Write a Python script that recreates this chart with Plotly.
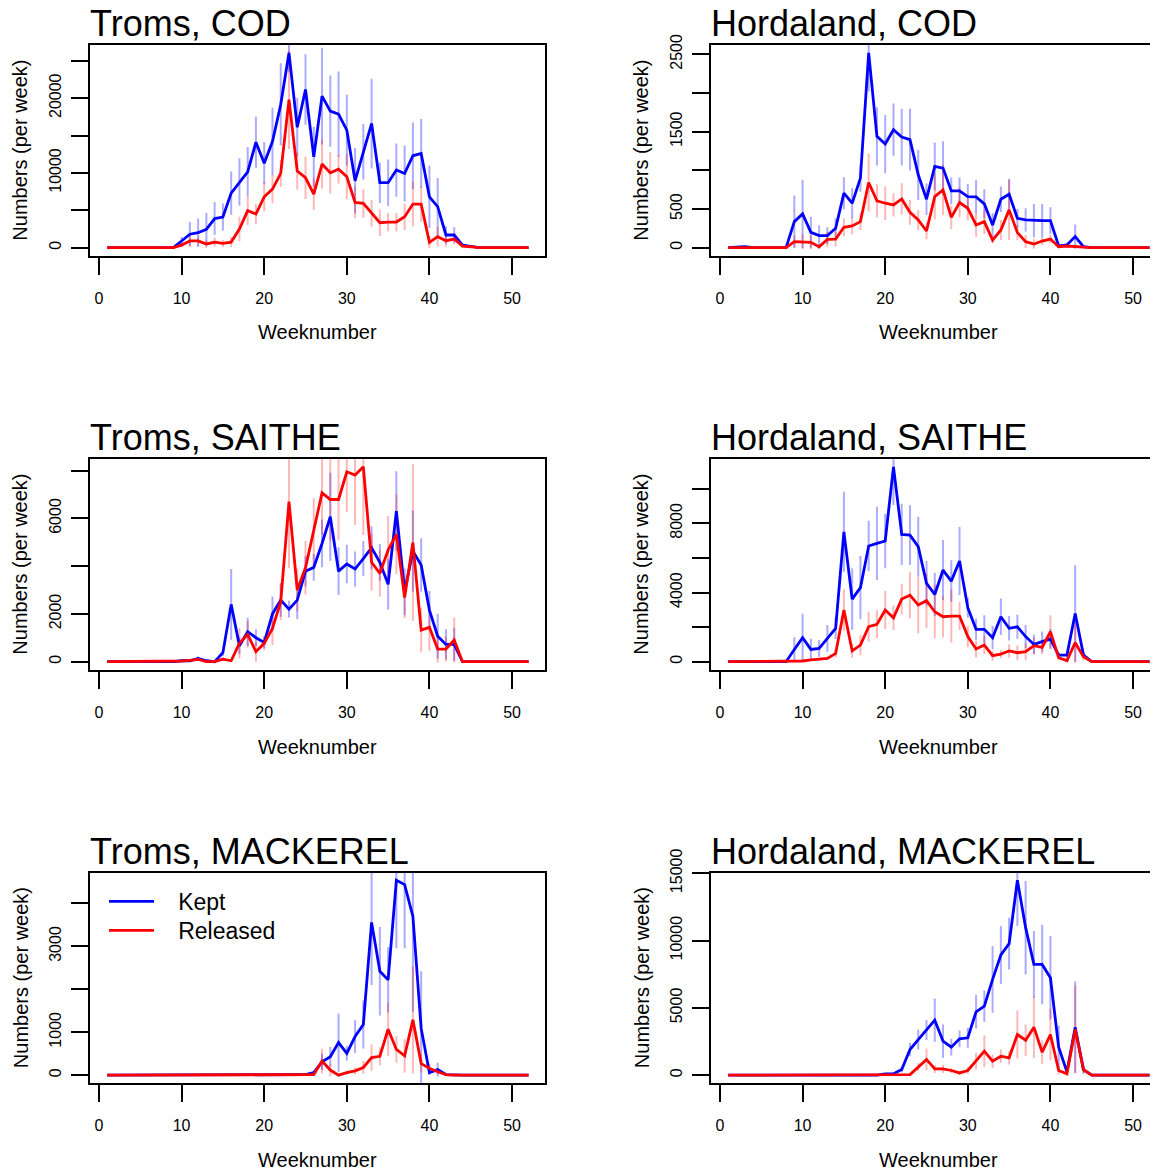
import plotly.graph_objects as go

# ---------------- data ----------------
weeks = list(range(1, 53))

panel_titles = ["Troms, COD", "Hordaland, COD", "Troms, SAITHE",
                "Hordaland, SAITHE", "Troms, MACKEREL", "Hordaland, MACKEREL"]
legend_names = ["Kept", "Released"]

# Troms, COD
troms_cod_kept = [0]*9 + [900, 1800, 2000, 2450, 3900, 4100, 7300, 8800, 10150, 14100, 11300, 14200,
                          19150, 26060, 16100, 21150, 12150, 20270, 18260, 17860, 15720, 8950, 12830,
                          16600, 8690, 8690, 10380, 9930, 12290, 12600, 6800, 5480, 1700, 1700, 350, 200] + [0]*7
troms_cod_rel = [0]*9 + [350, 900, 900, 500, 750, 580, 750, 2500, 4950, 4500, 6800, 7840, 9930, 19800,
                         10240, 9350, 7170, 11180, 10020, 10500, 9490, 6060, 5920, 4590, 3340, 3430, 3430,
                         4140, 5830, 5830, 710, 1470, 940, 1160, 220, 130] + [0]*7
troms_cod_kept_err = [0]*9 + [540, 1650, 1900, 2200, 2200, 1800, 2900, 3150, 3300, 3400, 2830, 4500, 5500,
                              2550, 3900, 4700, 4000, 6460, 4770, 5700, 4720, 4370, 3720, 6000, 2700, 3100,
                              3560, 3740, 4450, 4600, 4150, 3850, 1160, 1020, 270, 100] + [0]*7
troms_cod_rel_err = [0]*9 + [300, 700, 600, 500, 600, 500, 700, 1650, 1900, 1340, 1940, 1900, 1800, 6600,
                             2450, 2850, 2120, 3300, 2780, 1900, 3000, 2120, 1900, 1780, 1780, 1220, 1220,
                             1780, 3000, 2340, 780, 1300, 780, 700, 200, 100] + [0]*7

# Hordaland, COD
hord_cod_kept = [0, 10, 15, 0, 0, 0, 0, 0] + [337, 437, 199, 156, 156, 251, 705, 575, 900, 2520, 1440, 1340,
                                              1526, 1431, 1397, 943, 627, 1050, 1029, 735, 735, 661, 657, 566,
                                              294, 627, 692, 380, 359, 350, 350, 350, 22, 35, 143, 13] + [0]*8
hord_cod_rel = [0]*8 + [78, 78, 69, 13, 108, 112, 264, 281, 337, 843, 605, 575, 553, 631, 458, 359, 216, 661,
                        748, 393, 584, 510, 294, 337, 99, 229, 489, 195, 78, 48, 86, 112, 13, 22, 13, 0] + [0]*8
hord_cod_kept_err = [0, 10, 10, 0, 0, 0, 0, 0] + [337, 440, 200, 130, 108, 130, 207, 195, 175, 500, 376, 376,
                                                  337, 367, 400, 325, 203, 311, 346, 173, 173, 164, 216, 190,
                                                  151, 164, 199, 121, 151, 216, 216, 173, 20, 30, 156, 10] + [0]*8
hord_cod_rel_err = [0]*8 + [78, 95, 86, 30, 95, 95, 117, 108, 108, 376, 216, 216, 151, 203, 160, 130, 108, 300,
                            324, 151, 195, 151, 151, 160, 43, 130, 389, 100, 86, 60, 52, 52, 10, 15, 10, 0] + [0]*8

# Troms, SAITHE
troms_sai_kept = [0]*9 + [40, 40, 140, 40, 0, 376, 2400, 670, 1255, 1004, 810, 2000, 2580, 2200, 2580, 3790,
                          3950, 4950, 6070, 3790, 4090, 3880, 4320, 4770, 4160, 3240, 6300, 2930, 4630, 4050,
                          2160, 1070, 725, 725, 0] + [0]*8
troms_sai_rel = [0]*9 + [30, 55, 100, 0, 0, 110, 40, 770, 1140, 420, 770, 1395, 2510, 6700, 3000, 3930, 5440,
                         7070, 6790, 6790, 7950, 7810, 8160, 4160, 3700, 4670, 5330, 2690, 4990, 1325, 1440,
                         530, 530, 910, 0] + [0]*8
troms_sai_kept_err = [0]*9 + [40, 40, 80, 40, 0, 140, 1480, 350, 590, 350, 250, 730, 700, 350, 800, 640, 560,
                              1000, 1840, 1000, 810, 730, 730, 900, 770, 1050, 1670, 980, 1700, 1120, 800, 940,
                              630, 700, 0] + [0]*8
troms_sai_rel_err = [0]*9 + [30, 40, 60, 0, 0, 80, 40, 630, 560, 420, 300, 700, 770, 2790, 900, 1120, 1400,
                             1770, 1700, 1700, 1670, 2090, 2860, 1190, 980, 1430, 1670, 870, 3280, 940, 980,
                             560, 520, 940, 0] + [0]*8

# Hordaland, SAITHE
hord_sai_kept = [0]*8 + [710, 1390, 710, 770, 1350, 1930, 7510, 3620, 4280, 6690, 6840, 6980, 11270, 7360,
                         7320, 6650, 4530, 3890, 5300, 4660, 5820, 3120, 1870, 1870, 1390, 2600, 1930, 2020,
                         1450, 1000, 1160, 1310, 385, 385, 2790, 385, 0] + [0]*7
hord_sai_rel = [0]*8 + [0, 40, 100, 135, 190, 480, 2990, 620, 960, 2020, 2160, 2990, 2540, 3620, 3850, 3280,
                        3530, 2890, 2600, 2640, 2640, 1450, 730, 960, 350, 440, 620, 520, 580, 925, 830, 1730,
                        230, 60, 1100, 290, 0] + [0]*7
hord_sai_kept_err = [0]*8 + [710, 1390, 620, 480, 770, 620, 2310, 1770, 1830, 1460, 2120, 1580, 2210, 1770,
                             1730, 1730, 1300, 1250, 1730, 1200, 1970, 580, 620, 810, 670, 1060, 710, 690, 670,
                             580, 580, 580, 150, 150, 2790, 150, 0] + [0]*7
hord_sai_rel_err = [0]*8 + [0, 30, 60, 80, 100, 230, 1200, 385, 580, 870, 810, 1100, 710, 890, 1350, 1640,
                            1580, 1540, 1200, 1540, 810, 620, 480, 520, 290, 230, 385, 420, 480, 480, 385, 960,
                            150, 50, 1160, 200, 0] + [0]*7

# Troms, MACKEREL
troms_mac_kept = [0]*16 + [5] + [0]*6 + [15, 15, 60, 310, 430, 760, 510, 900, 1180, 3560, 2420, 2220, 4540,
                                         4440, 3700, 1090, 60, 130, 15] + [0]*10
troms_mac_rel = [0]*25 + [15, 330, 120, 0, 60, 100, 180, 410, 440, 1070, 600, 450, 1290, 270, 160, 80,
                          15] + [0]*10
troms_mac_kept_err = [0]*23 + [10, 10, 40, 190, 230, 680, 170, 380, 560, 1460, 1030, 760, 1580, 1480, 2220,
                               1330, 50, 160, 10] + [0]*10
troms_mac_rel_err = [0]*25 + [10, 290, 150, 0, 40, 80, 150, 310, 210, 620, 310, 390, 1250, 210, 100, 50,
                              10] + [0]*10

# Hordaland, MACKEREL
hord_mac_kept = [0]*14 + [30, 30] + [0]*3 + [100, 100, 420, 1910, 2650, 3350, 4090, 2530, 2080, 2700, 2780,
                                             4710, 5130, 7120, 8930, 9770, 14480, 10960, 8230, 8230, 7240,
                                             2080, 250, 3570, 420, 0] + [0]*7
hord_mac_rel = [0]*19 + [50, 50, 50, 50, 600, 1170, 470, 470, 350, 170, 350, 1040, 1790, 1040, 1410, 1290,
                         3020, 2600, 3570, 1710, 3020, 350, 100, 3400, 420, 0] + [0]*7
hord_mac_kept_err = [0]*19 + [50, 50, 200, 500, 740, 740, 1610, 1240, 620, 620, 740, 1240, 1170, 2480, 2150,
                              1920, 3400, 3470, 2480, 2950, 3100, 1610, 200, 3400, 300, 0] + [0]*7
hord_mac_rel_err = [0]*19 + [30, 30, 30, 30, 300, 800, 300, 300, 200, 150, 250, 620, 1170, 500, 500, 500,
                             1790, 1170, 2290, 870, 1910, 300, 100, 3270, 300, 0] + [0]*7

x_tick_vals = [0, 10, 20, 30, 40, 50]
y_tick_vals = [
    [0, 5000, 10000, 15000, 20000, 25000],
    [0, 500, 1000, 1500, 2000, 2500],
    [0, 2000, 4000, 6000, 8000],
    [0, 2000, 4000, 6000, 8000, 10000],
    [0, 1000, 2000, 3000, 4000],
    [0, 5000, 10000, 15000],
]
y_tick_text = [
    ["0", "", "10000", "", "20000", ""],
    ["0", "500", "", "1500", "", "2500"],
    ["0", "2000", "", "6000", ""],
    ["0", "", "4000", "", "8000", ""],
    ["0", "1000", "", "3000", ""],
    ["0", "5000", "10000", "15000"],
]

series = [
    (troms_cod_kept, troms_cod_rel, troms_cod_kept_err, troms_cod_rel_err),
    (hord_cod_kept, hord_cod_rel, hord_cod_kept_err, hord_cod_rel_err),
    (troms_sai_kept, troms_sai_rel, troms_sai_kept_err, troms_sai_rel_err),
    (hord_sai_kept, hord_sai_rel, hord_sai_kept_err, hord_sai_rel_err),
    (troms_mac_kept, troms_mac_rel, troms_mac_kept_err, troms_mac_rel_err),
    (hord_mac_kept, hord_mac_rel, hord_mac_kept_err, hord_mac_rel_err),
]

# ---------------- layout constants ----------------
OFF = 8                      # browser body margin
col_left_px = [90.4, 711.4]
plot_width_px = 455.0
row_top_px = [45.0, 459.0, 872.5]
row_height_px = 210.5

# the right-hand panels run past the right edge of the page, as in the reference
W = int(round(col_left_px[1] + plot_width_px - OFF)) + 1
H = 1171 - OFF
FONT = "Arial, Liberation Sans, sans-serif"
BLUE, RED = "#0000FF", "#FF0000"
BLUE_ERR, RED_ERR = "rgba(0,0,255,0.33)", "rgba(255,0,0,0.28)"


def fx(px):
    return (px - OFF) / W


def fy(py):
    return 1 - (py - OFF) / H


x_lo = weeks[0] - 0.04 * (weeks[-1] - weeks[0])
x_hi = weeks[-1] + 0.04 * (weeks[-1] - weeks[0])


def err_segments(vals, errs):
    xs, ys = [], []
    for w, v, e in zip(weeks, vals, errs):
        if e > 0:
            xs += [w, w, None]
            ys += [v - e, v + e, None]
    return xs, ys


legend_style = dict(xanchor="left", yanchor="top", bgcolor="rgba(0,0,0,0)", borderwidth=0,
                    font=dict(size=23, family=FONT, color="black"), itemwidth=45, tracegroupgap=0)

fig = go.Figure()
layout = dict(
    width=W, height=H, autosize=False,
    margin=dict(l=0, r=0, t=0, b=0, pad=0, autoexpand=False),
    paper_bgcolor="white", plot_bgcolor="white",
    font=dict(family=FONT, color="black"),
    showlegend=True,
    legend=dict(x=fx(104), y=fy(880), **legend_style),
    legend2=dict(x=fx(104), y=fy(909), **legend_style),
)
annotations = []

for i, (kept, rel, kerr, rerr) in enumerate(series):
    n = i + 1
    col = i % 2
    row = i // 2
    xa = "x" if n == 1 else f"x{n}"
    ya = "y" if n == 1 else f"y{n}"

    left = col_left_px[col]
    right = left + plot_width_px
    top = row_top_px[row]
    bottom = top + row_height_px

    ymax = max(max(kept), max(rel))
    yr = [-0.04 * ymax, 1.04 * ymax]

    bx, by = err_segments(kept, kerr)
    fig.add_trace(go.Scatter(x=bx, y=by, mode="lines", xaxis=xa, yaxis=ya,
                             line=dict(color=BLUE_ERR, width=2), showlegend=False, hoverinfo="skip"))
    rx, ry = err_segments(rel, rerr)
    fig.add_trace(go.Scatter(x=rx, y=ry, mode="lines", xaxis=xa, yaxis=ya,
                             line=dict(color=RED_ERR, width=2), showlegend=False, hoverinfo="skip"))
    fig.add_trace(go.Scatter(x=weeks, y=kept, mode="lines", xaxis=xa, yaxis=ya,
                             name="\u00a0\u00a0\u00a0" + legend_names[0], legend="legend",
                             line=dict(color=BLUE, width=2.8), showlegend=(n == 5)))
    fig.add_trace(go.Scatter(x=weeks, y=rel, mode="lines", xaxis=xa, yaxis=ya,
                             name="\u00a0\u00a0\u00a0" + legend_names[1], legend="legend2",
                             line=dict(color=RED, width=2.8), showlegend=(n == 5)))

    axis_common = dict(showline=True, linecolor="black", linewidth=2, mirror=True,
                       ticks="outside", ticklen=17, tickwidth=2, tickcolor="black",
                       showgrid=False, zeroline=False, automargin=False,
                       tickfont=dict(size=16, family=FONT, color="black"))
    layout["xaxis" if n == 1 else f"xaxis{n}"] = dict(
        domain=[fx(left), min(1.0, fx(right))], range=[x_lo, x_hi], anchor=ya,
        tickmode="array", tickvals=x_tick_vals, ticklabelstandoff=10, **axis_common)
    layout["yaxis" if n == 1 else f"yaxis{n}"] = dict(
        domain=[fy(bottom), fy(top)], range=yr, anchor=xa,
        tickmode="array", tickvals=y_tick_vals[i], ticktext=y_tick_text[i],
        tickangle=-90, ticklabelstandoff=4, **axis_common)

    # panel title
    annotations.append(dict(text=panel_titles[i], xref="paper", yref="paper",
                            x=fx(left), y=fy(top), xanchor="left", yanchor="bottom",
                            showarrow=False, font=dict(size=36, family=FONT, color="black"),
                            xshift=-2, yshift=-1))
    # x-axis title
    annotations.append(dict(text="Weeknumber", xref=xa, yref="paper",
                            x=(x_lo + x_hi) / 2, y=fy(bottom + 77),
                            xanchor="center", yanchor="middle", showarrow=False,
                            font=dict(size=20, family=FONT, color="black")))
    # y-axis title
    annotations.append(dict(text="Numbers (per week)", xref="paper", yref="paper",
                            x=fx(left - 70), y=fy(top + row_height_px / 2),
                            xanchor="center", yanchor="middle", textangle=-90, showarrow=False,
                            font=dict(size=20, family=FONT, color="black")))

layout["annotations"] = annotations
fig.update_layout(**layout)
fig.write_html("out.html")
